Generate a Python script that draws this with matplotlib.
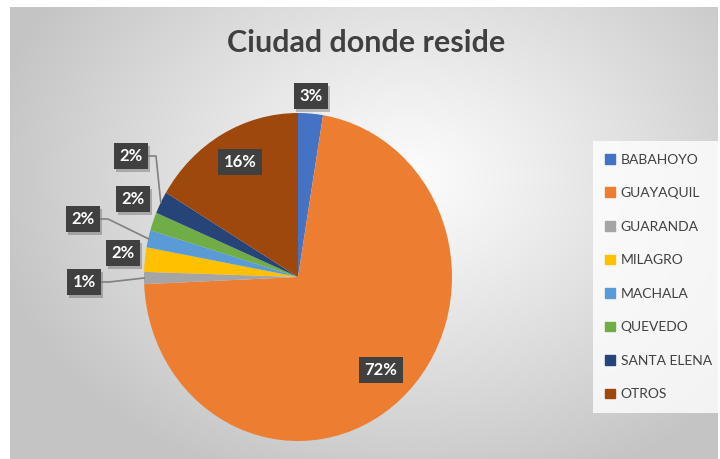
import numpy as np
import matplotlib
matplotlib.use("Agg")
import matplotlib.pyplot as plt
import matplotlib.patches as mpatches

# data (slice sizes estimated from the angles)
cities = ['BABAHOYO', 'GUAYAQUIL', 'GUARANDA', 'MILAGRO', 'MACHALA',
          'QUEVEDO', 'SANTA ELENA', 'OTROS']
shares = [2.6, 71.7, 1.2, 2.4, 1.7, 1.8, 2.2, 16.4]
colors = ['#4472C4', '#ED7D31', '#A5A5A5', '#FFC000', '#5B9BD5',
          '#70AD47', '#264478', '#9E480E']

# label box centres in pixels (layout only) and whether a leader line is drawn
label_px = [(311, 96), (381, 370), (84, 282), (123, 253), (83, 219),
            (133, 199), (131, 156), (240, 162)]
leaders = [False, False, True, False, True, False, True, False]

W, H = 720, 459
CX, CY, RX, RY = 298, 277, 154, 164

plt.rcParams['font.family'] = ['Lato', 'DejaVu Sans']

fig = plt.figure(figsize=(W / 100, H / 100), dpi=100)
fig.patch.set_facecolor('white')

# radial grey background of the chart area
bg = fig.add_axes([10 / W, 0, 708 / W, 452 / H])
bg.set_axis_off()
yy, xx = np.mgrid[0:452, 0:708]
t = np.sqrt(((xx - 400) / 430.0) ** 2 + ((yy - 170) / 330.0) ** 2)
t = np.clip(t, 0, 1) ** 1.1
g = (252 - (252 - 196) * t) / 255.0
bg.imshow(np.dstack([g, g, g]), aspect='auto', interpolation='bilinear')

fig.text(366 / W, 1 - 43 / H, 'Ciudad donde reside', ha='center', va='center',
         fontsize=22, fontweight='bold', color='#404040')

ax = fig.add_axes([(CX - RX) / W, (H - CY - RY) / H, 2 * RX / W, 2 * RY / H])
wedges, _ = ax.pie(shares, colors=colors, startangle=90, counterclock=False,
                   radius=1, wedgeprops=dict(linewidth=0))
ax.set_xlim(-1, 1)
ax.set_ylim(-1, 1)
ax.set_aspect('auto')
ax.set_axis_off()


def px2data(px, py):
    return (px - CX) / RX, (CY - py) / RY


labels = []
for w, v, (px, py), lead in zip(wedges, shares, label_px, leaders):
    x, y = px2data(px, py)
    if lead:
        mid = np.deg2rad((w.theta1 + w.theta2) / 2)
        x1, _ = px2data(px + 17, py)
        x2, _ = px2data(px + 25, py)
        ax.plot([x1, x2, np.cos(mid)], [y, y, np.sin(mid)], color='#808080',
                lw=1.2, clip_on=False, zorder=3)
    tx = ax.text(x, y, f"{round(v)}%", ha='center', va='center', fontsize=12,
                 fontweight='bold', color='white',
                 bbox=dict(boxstyle='square,pad=0.32', fc='#404040', ec='none'),
                 zorder=5, clip_on=False)
    labels.append(tx)

# soft shadow under each label box
fig.canvas.draw()
for tx in labels:
    bb = tx.get_bbox_patch().get_window_extent()
    fig.patches.append(mpatches.Rectangle((bb.x0 + 2, bb.y0 - 3), bb.width, bb.height,
                                          transform=None, fc=(0, 0, 0, 0.22),
                                          ec='none', zorder=1))
ax.set_zorder(2)

handles = [mpatches.Patch(color=c, label=n) for c, n in zip(colors, cities)]
leg = fig.legend(handles=handles, loc='center left',
                 bbox_to_anchor=(597 / W, 1 - 277 / H), frameon=True,
                 fontsize=10, labelspacing=1.55, handlelength=0.7,
                 handleheight=0.7, handletextpad=0.4, borderpad=0.6,
                 borderaxespad=0)
leg.get_frame().set_facecolor((1, 1, 1, 0.2))
leg.get_frame().set_edgecolor('none')
leg.get_frame().set_boxstyle('square')
for tx in leg.get_texts():
    tx.set_color('#404040')

fig.savefig('out.png', dpi=100)
